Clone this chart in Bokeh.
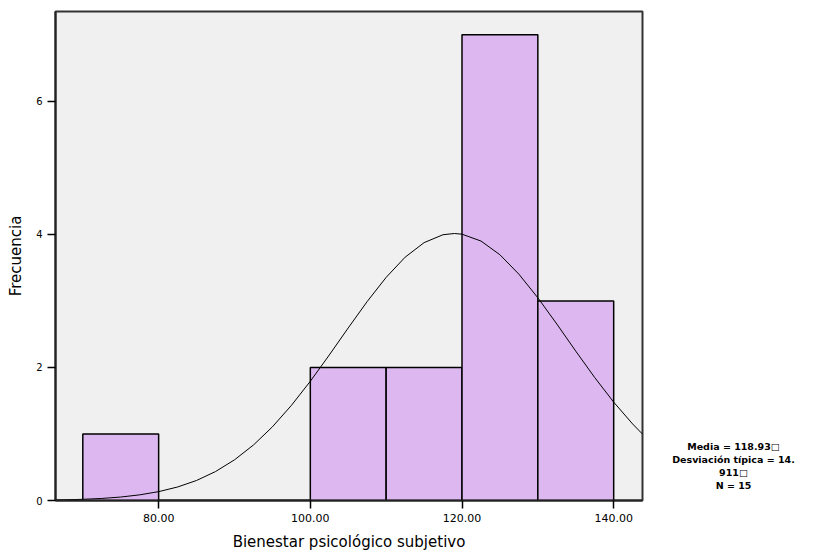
from bokeh.plotting import figure
from bokeh.layouts import row
from bokeh.models import Range1d, FixedTicker, PrintfTickFormatter
from bokeh.core.properties import value
from bokeh.embed import file_html
from bokeh.resources import INLINE

# Histogram bins (Bienestar psicológico subjetivo)
bin_left = [70, 80, 90, 100, 110, 120, 130]
bin_right = [80, 90, 100, 110, 120, 130, 140]
counts = [1, 0, 0, 2, 2, 7, 3]

# Normal curve
curve_x = [66.4, 67.5, 70, 72.5, 75, 77.5, 80, 82.5, 85, 87.5, 90, 92.5, 95, 97.5,
           100, 102.5, 105, 107.5, 110, 112.5, 115, 117.5, 119, 120, 122.5, 125,
           127.5, 130, 132.5, 135, 137.5, 140, 142.5, 143.8]
curve_y = [0.008, 0.010, 0.018, 0.031, 0.052, 0.085, 0.133, 0.203, 0.301, 0.435,
           0.611, 0.834, 1.107, 1.429, 1.792, 2.187, 2.594, 2.991, 3.354, 3.657,
           3.876, 3.995, 4.013, 4.003, 3.900, 3.694, 3.402, 3.047, 2.653, 2.245,
           1.848, 1.479, 1.150, 0.998]

x_ticks = [80, 100, 120, 140]
y_ticks = [0, 2, 4, 6]
stats_lines = ["Media = 118.93\u25a1", "Desviación típica = 14.", "911\u25a1", "N = 15"]

H = 553
p = figure(width=645, height=H, output_backend="svg", toolbar_location=None,
           x_range=Range1d(66.4, 143.8), y_range=Range1d(0, 7.35),
           min_border_left=55, min_border_right=3, min_border_top=11,
           min_border_bottom=53)

p.background_fill_color = "#F0F0F0"
p.border_fill_color = "white"
p.outline_line_color = "#333333"
p.outline_line_width = 2
p.grid.visible = False

p.quad(left=bin_left, right=bin_right, bottom=0, top=counts,
       fill_color="#DDB8F0", line_color="black", line_width=1.5)
p.line(curve_x, curve_y, line_color="black", line_width=1)

for ax in (p.xaxis[0], p.yaxis[0]):
    ax.axis_line_color = "#222222"
    ax.axis_line_width = 2
    ax.major_tick_line_color = "black"
    ax.major_tick_line_width = 1.5
    ax.major_tick_out = 8
    ax.major_tick_in = 0
    ax.minor_tick_line_color = None
    ax.major_label_text_font = "DejaVu Sans"
    ax.major_label_text_font_size = "11px"
    ax.major_label_text_color = "black"
    ax.axis_label_text_font = "DejaVu Sans"
    ax.axis_label_text_font_size = "15px"
    ax.axis_label_text_font_style = "normal"
    ax.axis_label_text_color = "black"

p.xaxis.ticker = FixedTicker(ticks=x_ticks)
p.xaxis.formatter = PrintfTickFormatter(format="%.2f")
p.xaxis.axis_label = "Bienestar psicológico subjetivo"
p.xaxis.axis_label_standoff = 8
p.yaxis.ticker = FixedTicker(ticks=y_ticks)
p.yaxis.major_label_text_font_size = "10px"
p.yaxis.axis_label = "Frecuencia"
p.yaxis.axis_label_standoff = 8

# Side panel with the statistics box text
s = figure(frame_width=173, frame_height=H, output_backend="svg",
           toolbar_location=None,
           x_range=Range1d(0, 173), y_range=Range1d(H, 0),
           min_border_left=0, min_border_right=0, min_border_top=0,
           min_border_bottom=0, x_axis_location=None, y_axis_location=None)
s.outline_line_color = None
s.grid.visible = False
s.background_fill_color = "white"
s.text(x=[88] * 4, y=[435, 448, 461, 474], text=stats_lines,
       text_align="center", text_baseline="middle",
       text_font=value("DejaVu Sans"), text_font_size="9.5px",
       text_font_style="bold", text_color="black")

layout = row(p, s, spacing=0)
open("out.html", "w").write(file_html(layout, INLINE))
